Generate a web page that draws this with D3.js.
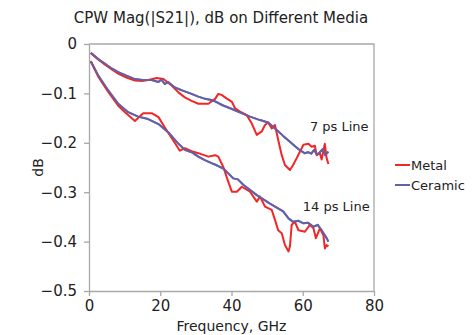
<!DOCTYPE html>
<html>
<head>
<meta charset="utf-8">
<script src="https://cdn.jsdelivr.net/npm/d3@7"></script>
<style>
  body { margin: 0; background: #fff; }
  text { font-family: "DejaVu Sans", Verdana, sans-serif; fill: #222; }
</style>
</head>
<body>
<div id="drawing"></div>
<script>
// chart values
const xTicks = [0, 20, 40, 60, 80];
const yTicks = [0, -0.1, -0.2, -0.3, -0.4, -0.5];
const seriesNames = ["Metal", "Ceramic"];
const seriesColors = ["#f22626", "#6262a8"];

// 7 ps line, [GHz, dB]
const ceramic7 = [[0.5,-0.018],[2.5,-0.030],[4.5,-0.040],[6.5,-0.050],[8.2,-0.057],[10.5,-0.064],[12.9,-0.071],[15,-0.073],
  [17.6,-0.073],[19.5,-0.077],[20.3,-0.072],[21.3,-0.081],[22.2,-0.077],[24.1,-0.088],[26.5,-0.095],[28.8,-0.101],[30.5,-0.106],
  [32.6,-0.111],[34,-0.113],[35.4,-0.116],[37.5,-0.124],[39.6,-0.130],[42.5,-0.139],[45.2,-0.147],[48,-0.154],[50.3,-0.159],
  [52.7,-0.174],[54.5,-0.186],[56.4,-0.198],[58,-0.208],[59.2,-0.215],[60.5,-0.221],[61.5,-0.219],[62.4,-0.222],[63.2,-0.214],
  [64,-0.224],[64.8,-0.219],[65.6,-0.213],[66.3,-0.225],[67.2,-0.218]];
const metal7 = [[0.5,-0.018],[2.5,-0.031],[4.5,-0.042],[6.5,-0.052],[8.2,-0.060],[10.5,-0.068],[12.9,-0.074],[15,-0.075],
  [17.2,-0.072],[19,-0.069],[20.9,-0.071],[23.2,-0.084],[25.1,-0.098],[26.9,-0.108],[28.8,-0.115],[30.7,-0.121],[33.5,-0.121],
  [35.4,-0.111],[36.3,-0.101],[37.2,-0.103],[38.6,-0.110],[40.1,-0.117],[41,-0.130],[42.4,-0.137],[44.3,-0.144],[45.7,-0.161],
  [47.1,-0.184],[48.5,-0.177],[49.4,-0.164],[50.3,-0.159],[51.3,-0.171],[52.2,-0.164],[53.1,-0.194],[54.1,-0.225],[55,-0.245],
  [56.4,-0.255],[57.3,-0.245],[58.3,-0.231],[59.2,-0.218],[60.2,-0.204],[61.6,-0.202],[62.5,-0.208],[63.4,-0.206],[63.9,-0.225],
  [64.8,-0.221],[65.3,-0.234],[66.2,-0.202],[66.7,-0.231],[67.2,-0.243]];

// 14 ps line, [GHz, dB]
const ceramic14 = [[0.5,-0.035],[2.6,-0.064],[5.4,-0.094],[8.2,-0.121],[11,-0.138],[13.8,-0.147],[16.6,-0.152],[19.5,-0.162],
  [22.3,-0.179],[25.1,-0.202],[26.9,-0.214],[28.8,-0.219],[30.7,-0.228],[32.5,-0.235],[34.4,-0.241],[36,-0.246],[37.7,-0.252],
  [40.5,-0.272],[41.8,-0.274],[43.3,-0.285],[47.1,-0.306],[50.8,-0.323],[54.5,-0.339],[56,-0.353],[57.3,-0.360],[58.8,-0.358],
  [60.2,-0.363],[61.5,-0.362],[63,-0.370],[64.2,-0.366],[65.3,-0.377],[66.7,-0.393],[67.2,-0.400]];
const metal14 = [[0.5,-0.035],[2.6,-0.066],[5.4,-0.097],[8.2,-0.125],[10.1,-0.138],[12.9,-0.156],[15.2,-0.140],[17.6,-0.140],
  [19.5,-0.148],[21.3,-0.169],[23.7,-0.196],[25.5,-0.216],[26.9,-0.211],[28.8,-0.217],[30.7,-0.221],[33.5,-0.228],[35.4,-0.225],
  [36.3,-0.228],[37.7,-0.249],[39.1,-0.279],[40.1,-0.299],[41.5,-0.299],[42.9,-0.289],[45.2,-0.299],[47.1,-0.319],[48,-0.309],
  [49.4,-0.329],[51.3,-0.336],[52.2,-0.356],[53.1,-0.377],[54.1,-0.383],[55,-0.407],[56,-0.420],[56.4,-0.410],[56.9,-0.366],
  [57.8,-0.360],[58.8,-0.377],[60.6,-0.380],[62,-0.366],[63,-0.373],[63.7,-0.393],[64.8,-0.373],[65.8,-0.387],[66.2,-0.414],
  [66.7,-0.407],[67.2,-0.410]];

const lineLabels = [{text: "7 ps Line", f: 62, v: -0.176}, {text: "14 ps Line", f: 60, v: -0.338}];

const width = 476;
const height = 335;
const margin = {top: 44, right: 102, bottom: 44, left: 89};

const svg = d3.select("#drawing").append("svg")
  .attr("width", width)
  .attr("height", height);

const xScale = d3.scaleLinear().domain([0, 80]).range([margin.left, width - margin.right]);
const yScale = d3.scaleLinear().domain([-0.5, 0]).range([height - margin.bottom, margin.top]);

// plot frame (top and right)
svg.append("path")
  .attr("d", `M${xScale(0)},${yScale(0)}H${xScale(80)}V${yScale(-0.5)}`)
  .attr("fill", "none")
  .attr("stroke", "#a8a8a8")
  .attr("stroke-width", 1.3);

const xAxis = svg.append("g")
  .attr("transform", `translate(0,${yScale(-0.5)})`)
  .call(d3.axisBottom(xScale).tickValues(xTicks).tickSize(5).tickPadding(4).tickSizeOuter(0));

const yAxis = svg.append("g")
  .attr("transform", `translate(${xScale(0)},0)`)
  .call(d3.axisLeft(yScale).tickValues(yTicks).tickSize(5).tickPadding(7).tickSizeOuter(0)
    .tickFormat(d => d === 0 ? "0" : d3.format(".1f")(d)));

[xAxis, yAxis].forEach(a => {
  a.selectAll("path, line").attr("stroke", "#a8a8a8").attr("stroke-width", 1.3);
  a.selectAll("text").style("font-size", "15px").attr("fill", "#222")
    .style("font-family", "'DejaVu Sans', Verdana, sans-serif");
});

const line = d3.line()
  .x(d => xScale(d[0]))
  .y(d => yScale(d[1]));

const curves = [
  {data: ceramic7, color: seriesColors[1]},
  {data: ceramic14, color: seriesColors[1]},
  {data: metal7, color: seriesColors[0]},
  {data: metal14, color: seriesColors[0]}
];

svg.selectAll(".curve")
  .data(curves)
  .enter()
  .append("path")
    .attr("class", "curve")
    .attr("d", d => line(d.data))
    .attr("fill", "none")
    .attr("stroke", d => d.color)
    .attr("stroke-width", 2)
    .attr("stroke-linejoin", "round");

// ceramic drawn again on top where they overlap, like the reference
svg.selectAll(".curveTop")
  .data(curves.slice(0, 2))
  .enter()
  .append("path")
    .attr("class", "curveTop")
    .attr("d", d => line(d.data))
    .attr("fill", "none")
    .attr("stroke", d => d.color)
    .attr("stroke-width", 2)
    .attr("stroke-linejoin", "round")
    .attr("opacity", 0.85);

svg.selectAll(".lineLabel")
  .data(lineLabels)
  .enter()
  .append("text")
    .attr("class", "lineLabel")
    .attr("x", d => xScale(d.f))
    .attr("y", d => yScale(d.v))
    .style("font-size", "13px")
    .text(d => d.text);

// title and axis titles
svg.append("text")
  .attr("x", 221)
  .attr("y", 23)
  .attr("text-anchor", "middle")
  .style("font-size", "15px")
  .text("CPW Mag(|S21|), dB on Different Media");

svg.append("text")
  .attr("x", xScale(40))
  .attr("y", 331)
  .attr("text-anchor", "middle")
  .style("font-size", "14px")
  .text("Frequency, GHz");

svg.append("text")
  .attr("transform", `translate(43,${yScale(-0.25)}) rotate(-90)`)
  .attr("text-anchor", "middle")
  .style("font-size", "14px")
  .text("dB");

// legend
const legend = svg.selectAll(".legendItem")
  .data(seriesNames)
  .enter()
  .append("g")
    .attr("class", "legendItem")
    .attr("transform", (d, i) => `translate(395,${165 + i * 20})`);

legend.append("line")
  .attr("x1", 0).attr("x2", 15)
  .attr("stroke", (d, i) => seriesColors[i])
  .attr("stroke-width", 2);

legend.append("text")
  .attr("x", 16)
  .attr("y", 5)
  .style("font-size", "13px")
  .text(d => d);
</script>
</body>
</html>
